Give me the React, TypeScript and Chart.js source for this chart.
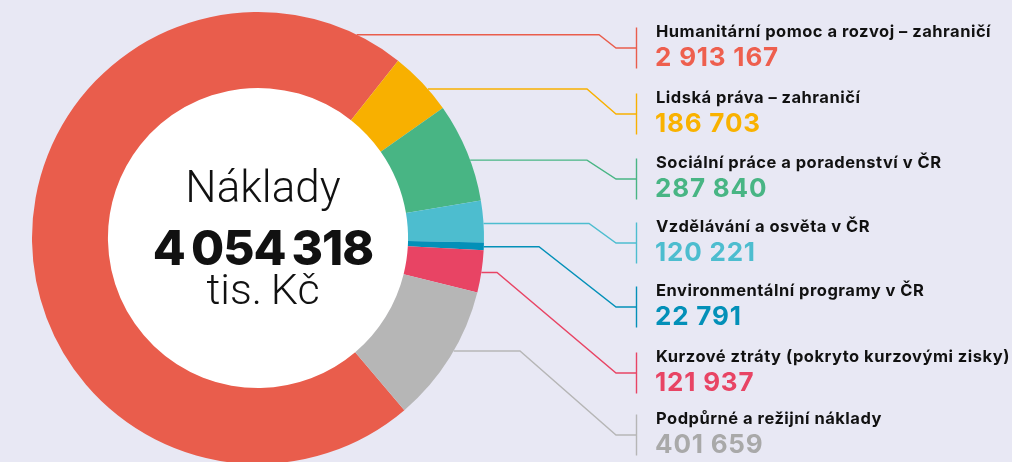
import React, { useEffect, useRef } from "react";
import { Chart, registerables } from "chart.js";

Chart.register(...registerables);

const categories = [
  "Humanitární pomoc a rozvoj – zahraničí",
  "Lidská práva – zahraničí",
  "Sociální práce a poradenství v ČR",
  "Vzdělávání a osvěta v ČR",
  "Environmentální programy v ČR",
  "Kurzové ztráty (pokryto kurzovými zisky)",
  "Podpůrné a režijní náklady",
];
const values = [2913167, 186703, 287840, 120221, 22791, 121937, 401659];
const sliceColors = ["#E95D4C", "#F8B000", "#48B584", "#4DBDCF", "#0390B8", "#E84464", "#B6B6B6"];
const valueColors = ["#EE5F4E", "#F9B200", "#48B584", "#4DBDCF", "#0390B8", "#E84464", "#A9A9A9"];
const centerTitle = "Náklady";
const centerUnit = "tis.\u2009Kč";

// layout (not data)
const anchorFrac = [0.952, 0.63, 0.585, 0.55, 0.55, 0.52, 0.45];
const bendX = [599, 587, 587, 589, 539, 497, 520];
const legendMidY = [48, 114, 179, 243, 307, 373, 435];

const fmt = (v: number, sep = " ") => String(v).replace(/\B(?=(\d{3})+(?!\d))/g, sep);

const overlayPlugin = {
  id: "overlay",
  afterDraw(chart: any) {
    const ctx = chart.ctx;
    const meta = chart.getDatasetMeta(0);
    const total = values.reduce((a, b) => a + b, 0);
    ctx.save();
    // center text
    const c = meta.data[0].getProps(["x", "y"], true);
    const cx = c.x + 5;
    ctx.textAlign = "center";
    ctx.textBaseline = "alphabetic";
    ctx.fillStyle = "#111111";
    ctx.font = "300 44px Roboto";
    ctx.fillText(centerTitle, cx, c.y - 36.5);
    ctx.font = "800 48px Inter";
    (ctx as any).letterSpacing = "-1px";
    ctx.fillText(fmt(total, "\u2009"), cx, c.y + 26.5);
    (ctx as any).letterSpacing = "0px";
    ctx.font = "300 43px Roboto";
    ctx.fillText(centerUnit, cx, c.y + 65.5);

    // connectors + labels
    const barX = 636.5;
    const diagEndX = 616;
    ctx.lineWidth = 1.4;
    ctx.textAlign = "left";
    meta.data.forEach((arc: any, i: number) => {
      const p = arc.getProps(["x", "y", "startAngle", "endAngle", "outerRadius"], true);
      const a = p.startAngle + anchorFrac[i] * (p.endAngle - p.startAngle);
      const sx = p.x + p.outerRadius * Math.cos(a);
      const sy = p.y + p.outerRadius * Math.sin(a);
      const mid = legendMidY[i];
      ctx.strokeStyle = sliceColors[i];
      ctx.beginPath();
      ctx.moveTo(sx, sy);
      ctx.lineTo(bendX[i], sy);
      ctx.lineTo(diagEndX, mid);
      ctx.lineTo(barX, mid);
      ctx.stroke();
      ctx.beginPath();
      ctx.moveTo(barX, mid - 20.5);
      ctx.lineTo(barX, mid + 20.5);
      ctx.stroke();

      ctx.fillStyle = "#111111";
      ctx.font = "700 16.5px Inter";
      (ctx as any).letterSpacing = "0.5px";
      ctx.fillText(categories[i], 656, mid - 10.7);
      ctx.fillStyle = valueColors[i];
      ctx.font = "700 26px Inter";
      (ctx as any).letterSpacing = "0.8px";
      ctx.fillText(fmt(values[i]), 655, mid + 17.7);
      (ctx as any).letterSpacing = "0px";
    });
    ctx.restore();
  },
};

export default function App() {
  const ref = useRef<HTMLCanvasElement>(null);
  useEffect(() => {
    document.body.style.margin = "0";
    const chart = new Chart(ref.current!, {
      type: "doughnut",
      data: {
        labels: categories,
        datasets: [
          {
            data: values,
            backgroundColor: sliceColors,
            borderWidth: 0,
            hoverOffset: 0,
          },
        ],
      },
      options: {
        animation: false,
        responsive: false,
        cutout: "66.4%",
        rotation: 139.63,
        layout: { padding: { left: 32, top: 12, right: 528, bottom: 16 } },
        plugins: { legend: { display: false }, tooltip: { enabled: false } },
      },
      plugins: [
        {
          id: "innerWhite",
          beforeDatasetsDraw(chart: any) {
            const arc = chart.getDatasetMeta(0).data[0];
            if (!arc) return;
            const p = arc.getProps(["x", "y", "innerRadius"], true);
            const ctx = chart.ctx;
            ctx.save();
            ctx.fillStyle = "#ffffff";
            ctx.beginPath();
            ctx.arc(p.x, p.y, p.innerRadius + 0.5, 0, Math.PI * 2);
            ctx.fill();
            ctx.restore();
          },
        },
        overlayPlugin,
      ],
    });
    return () => chart.destroy();
  }, []);
  return (
    <div
      style={{
        position: "fixed",
        left: 0,
        top: 0,
        width: 1012,
        height: 462,
        overflow: "hidden",
        background: "#E8E8F4",
      }}
    >
      <canvas ref={ref} width={1012} height={480} style={{ display: "block", width: 1012, height: 480 }} />
    </div>
  );
}
